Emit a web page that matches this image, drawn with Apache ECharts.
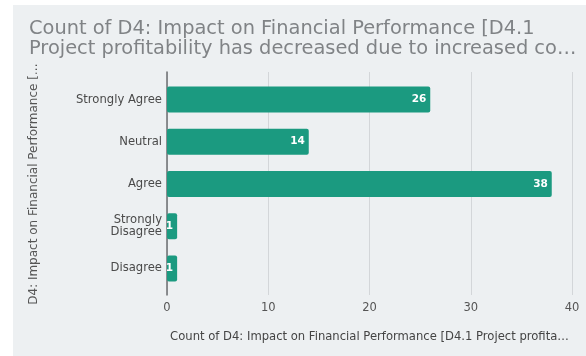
<!DOCTYPE html>
<html>
<head>
<meta charset="utf-8">
<script src="https://cdn.jsdelivr.net/npm/echarts@6/dist/echarts.min.js"></script>
<style>
  html, body { margin: 0; padding: 0; background: #ffffff; }
  #chart { position: absolute; left: 13px; top: 5px; width: 573px; height: 351px; background: #edf0f2; }
</style>
</head>
<body>
<div id="chart"></div>
<script>
// Survey answers, listed top to bottom
const categories = ['Strongly Agree', 'Neutral', 'Agree', 'Strongly\nDisagree', 'Disagree'];
const counts = [26, 14, 38, 1, 1];
const xTicks = [0, 10, 20, 30, 40];

const titleLines = [
  'Count of D4: Impact on Financial Performance [D4.1',
  'Project profitability has decreased due to increased co\u2026'
];
const xName = 'Count of D4: Impact on Financial Performance [D4.1 Project profita\u2026';
const yName = 'D4: Impact on Financial Performance [\u2026';

const chart = echarts.init(document.getElementById('chart'));
const uiFont = 'DejaVu Sans';

chart.setOption({
  animation: false,
  title: {
    text: titleLines.join('\n'),
    left: 11,
    top: 9,
    textStyle: {
      fontFamily: uiFont,
      fontSize: 19.4,
      fontWeight: 'normal',
      color: '#808386',
      lineHeight: 20
    }
  },
  grid: [
    // frame holding the gridlines, tick labels and baseline
    { left: 154, right: 14, top: 67, bottom: 61 },
    // bars
    { left: 154, right: 14, top: 73.4, bottom: 66.4 }
  ],
  xAxis: [
    {
      gridIndex: 0,
      type: 'value',
      min: xTicks[0],
      max: xTicks[xTicks.length - 1],
      interval: 10,
      axisLine: { show: false },
      axisTick: { show: false },
      splitLine: { lineStyle: { color: '#d3d6d9', width: 1 } },
      axisLabel: {
        margin: 7,
        fontFamily: uiFont,
        fontSize: 11.5,
        color: '#555',
        formatter: v => xTicks.includes(v) ? String(v) : ''
      },
      name: xName,
      nameLocation: 'middle',
      nameGap: 36,
      nameTextStyle: {
        fontFamily: uiFont,
        fontSize: 11.6,
        color: '#444'
      }
    },
    {
      gridIndex: 1,
      type: 'value',
      min: xTicks[0],
      max: xTicks[xTicks.length - 1],
      show: false
    }
  ],
  yAxis: [
    {
      gridIndex: 0,
      type: 'category',
      data: categories,
      inverse: true,
      axisLine: { show: true, lineStyle: { color: '#6b6e70', width: 1.5 } },
      axisTick: { show: false },
      axisLabel: { show: false }
    },
    {
      gridIndex: 1,
      type: 'category',
      data: categories,
      inverse: true,
      axisLine: { show: false },
      axisTick: { show: false },
      axisLabel: {
        margin: 5,
        fontFamily: uiFont,
        fontSize: 11.6,
        color: '#4a4a4a',
        lineHeight: 12
      },
      name: yName,
      nameLocation: 'middle',
      nameRotate: 90,
      nameGap: 127,
      nameTextStyle: {
        fontFamily: uiFont,
        fontSize: 12,
        color: '#555'
      }
    }
  ],
  series: [
    {
      type: 'bar',
      xAxisIndex: 1,
      yAxisIndex: 1,
      data: counts,
      barWidth: 26,
      itemStyle: { color: '#1b9a80', borderRadius: 2 },
      label: {
        show: true,
        position: 'insideRight',
        distance: 4,
        fontFamily: uiFont,
        fontSize: 10.5,
        fontWeight: 'bold',
        color: '#ffffff'
      }
    }
  ]
});
</script>
</body>
</html>
